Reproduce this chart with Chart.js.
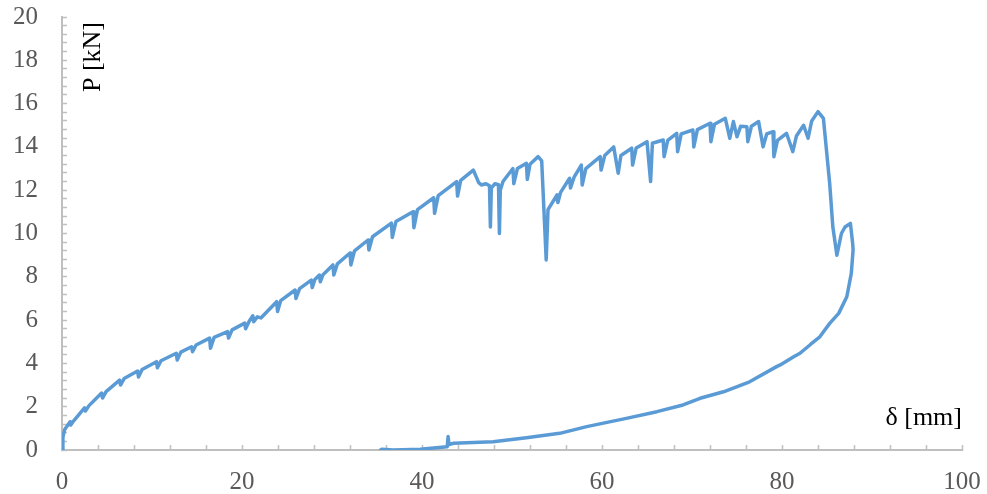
<!DOCTYPE html>
<html lang="en">
<head>
    <meta charset="UTF-8">
    <title>P - delta</title>
    <script src="https://cdn.jsdelivr.net/npm/chart.js"></script>
    <style>
        html, body { margin: 0; padding: 0; background: #fff; }
        #wrap { width: 987px; height: 494px; }
    </style>
</head>
<body>
<div id="wrap"><canvas id="pdChart"></canvas></div>

<script>
    // loading branch (with the sawtooth drops), delta in mm, P in kN
    const deltaLoading = [
        0, 0.1, 0.3, 0.9, 0.95, 1.3, 2.5, 2.6, 3.0, 4.4, 4.5, 4.9, 6.4, 6.5, 6.9,
        8.4, 8.5, 8.9, 10.5, 10.6, 11.0, 12.7, 12.8, 13.2, 14.4, 14.5, 14.9,
        16.4, 16.5, 16.9, 18.4, 18.5, 18.9, 20.3, 20.4, 20.8, 21.2, 21.3, 21.7, 22.1,
        23.85, 23.95, 24.3, 25.9, 26.0, 26.4, 27.7, 27.8, 28.1, 28.6, 28.7, 29.0,
        30.1, 30.2, 30.6, 32.0, 32.1, 32.5, 34.0, 34.1, 34.5, 36.6, 36.7, 37.1,
        39.0, 39.1, 39.5, 41.3, 41.4, 41.8, 43.85, 43.95, 44.3, 45.7, 46.3, 46.6,
        47.1, 47.5, 47.6, 47.7, 48.1, 48.5, 48.6, 48.7, 49.0, 50.1, 50.2, 50.6,
        51.6, 51.7, 52.0, 52.9, 53.3, 53.8, 54.0, 55.0, 55.1, 55.4, 56.4, 56.5, 56.9,
        57.7, 57.8, 58.2, 59.8, 59.9, 60.3, 61.3, 61.8, 62.1, 63.3, 63.4, 63.8,
        65.0, 65.4, 65.6, 66.8, 66.9, 67.3, 68.3, 68.4, 68.8, 70.1, 70.2, 70.6,
        72.0, 72.1, 72.5, 73.7, 74.2, 74.6, 75.0, 75.4, 76.1, 76.2, 76.6,
        77.4, 77.9, 78.3, 79.0, 79.1, 79.5, 80.5, 81.2, 81.6, 82.4, 82.9, 83.3,
        84.0, 84.6, 85.3, 85.65, 86.1, 86.6, 87.0, 87.6, 87.85
    ];
    const loadLoading = [
        0, 0.6, 0.95, 1.3, 1.15, 1.35, 1.95, 1.8, 2.05, 2.63, 2.4, 2.7, 3.23, 3.0, 3.3,
        3.65, 3.37, 3.72, 4.08, 3.8, 4.12, 4.47, 4.16, 4.52, 4.77, 4.54, 4.85,
        5.17, 4.7, 5.2, 5.47, 5.17, 5.55, 5.86, 5.6, 5.95, 6.2, 5.93, 6.15, 6.1,
        6.85, 6.4, 6.9, 7.39, 7.0, 7.45, 7.85, 7.5, 7.88, 8.08, 7.77, 8.1,
        8.55, 8.08, 8.6, 9.1, 8.55, 9.2, 9.7, 9.24, 9.85, 10.48, 9.82, 10.55,
        11.0, 10.27, 11.1, 11.65, 10.93, 11.75, 12.4, 11.73, 12.45, 12.93, 12.35, 12.24,
        12.3, 12.2, 10.3, 12.1, 12.3, 12.25, 10.0, 12.0, 12.4, 13.0, 12.3, 13.0,
        13.24, 12.5, 13.2, 13.55, 13.35, 8.78, 11.1, 11.78, 11.43, 11.9, 12.55, 12.1, 12.6,
        13.16, 12.24, 13.0, 13.55, 12.93, 13.6, 14.0, 12.78, 13.6, 13.94, 13.16, 13.95,
        14.24, 12.4, 14.17, 14.32, 13.55, 14.3, 14.63, 13.78, 14.6, 14.78, 14.0, 14.8,
        15.09, 14.24, 15.05, 15.32, 14.4, 15.17, 14.47, 14.95, 14.93, 14.24, 14.95,
        15.17, 14.0, 14.6, 14.7, 13.55, 14.3, 14.63, 13.78, 14.5, 15.0, 14.4, 15.2,
        15.63, 15.32, 12.3, 10.3, 9.0, 10.0, 10.3, 10.47, 9.55
    ];
    // unloading branch, back down to zero
    const deltaUnloading = [
        87.9, 87.7, 87.2, 86.3, 85.3, 84.2, 83.3, 83.1, 82.0, 81.3, 79.8, 79.4,
        76.4, 73.5, 70.9, 69.0, 66.1, 62.7, 58.3, 55.3, 51.6, 47.9, 43.5, 43.0,
        42.9, 42.8, 39.8, 36.8, 35.5, 35.4
    ];
    const loadUnloading = [
        9.24, 8.16, 7.08, 6.31, 5.85, 5.23, 4.93, 4.85, 4.47, 4.31, 3.93, 3.85,
        3.15, 2.69, 2.39, 2.08, 1.77, 1.46, 1.08, 0.77, 0.57, 0.38, 0.31, 0.25,
        0.62, 0.15, 0.03, 0.0, 0.03, 0.0
    ];

    const xTitle = 'δ [mm]';
    const yTitle = 'P [kN]';

    const delta = deltaLoading.concat(deltaUnloading);
    const load = loadLoading.concat(loadUnloading);
    const points = delta.map((d, i) => ({ x: d, y: load[i] }));

    const axisGray = '#bfbfbf';
    const labelGray = '#595959';
    const serif = "'Liberation Serif', 'Times New Roman', serif";

    function isMultiple(v, n) {
        return Math.abs(v / n - Math.round(v / n)) < 1e-6;
    }

    // keep the plot area fixed: no extra room reserved for the end labels
    function noEdgePadding(scale) {
        scale.paddingTop = 0;
        scale.paddingBottom = 0;
        scale.paddingLeft = 0;
        scale.paddingRight = 0;
    }

    // axis titles drawn inside the plot, like the original
    const titlesPlugin = {
        id: 'titles',
        afterDraw(chart) {
            const c = chart.ctx;
            const area = chart.chartArea;
            c.save();
            c.fillStyle = '#000';
            c.font = '26px ' + serif;
            c.textBaseline = 'middle';
            c.textAlign = 'center';
            c.translate(area.left + 31, area.top + 40);
            c.rotate(-Math.PI / 2);
            c.fillText(yTitle, 0, 0);
            c.restore();

            c.save();
            c.fillStyle = '#000';
            c.font = '26px ' + serif;
            c.textBaseline = 'middle';
            c.textAlign = 'right';
            c.fillText(xTitle, area.right, area.bottom - 32);
            c.restore();
        }
    };

    const ctx = document.getElementById('pdChart').getContext('2d');
    const chart = new Chart(ctx, {
        type: 'scatter',
        data: {
            datasets: [{
                data: points,
                showLine: true,
                borderColor: '#5b9bd5',
                backgroundColor: '#5b9bd5',
                borderWidth: 3.5,
                borderJoinStyle: 'round',
                borderCapStyle: 'round',
                pointRadius: 0,
                tension: 0
            }]
        },
        options: {
            responsive: true,
            maintainAspectRatio: false,
            animation: false,
            layout: { padding: { left: 0, top: 17, right: 25, bottom: 0 } },
            plugins: {
                legend: { display: false },
                tooltip: { enabled: false }
            },
            scales: {
                x: {
                    type: 'linear',
                    min: 0,
                    max: 100,
                    afterFit(scale) {
                        scale.height = 44;
                        noEdgePadding(scale);
                    },
                    border: { color: axisGray, width: 2 },
                    grid: {
                        drawOnChartArea: false,
                        drawTicks: true,
                        tickLength: -5,
                        tickColor: axisGray,
                        tickWidth: 1.5
                    },
                    ticks: {
                        stepSize: 4,
                        autoSkip: false,
                        maxRotation: 0,
                        padding: 22,
                        color: labelGray,
                        font: { family: serif, size: 25 },
                        callback: v => isMultiple(v, 20) ? String(Math.round(v)) : ''
                    }
                },
                y: {
                    type: 'linear',
                    min: 0,
                    max: 20,
                    afterFit(scale) {
                        scale.width = 62;
                        noEdgePadding(scale);
                    },
                    border: { color: axisGray, width: 2 },
                    grid: {
                        drawOnChartArea: false,
                        drawTicks: true,
                        tickLength: -5,
                        tickColor: axisGray,
                        tickWidth: 1.5
                    },
                    ticks: {
                        stepSize: 0.4,
                        autoSkip: false,
                        padding: 29,
                        color: labelGray,
                        font: { family: serif, size: 25 },
                        callback: v => isMultiple(v, 2) ? String(Math.round(v)) : ''
                    }
                }
            }
        },
        plugins: [titlesPlugin]
    });
</script>

</body>
</html>
